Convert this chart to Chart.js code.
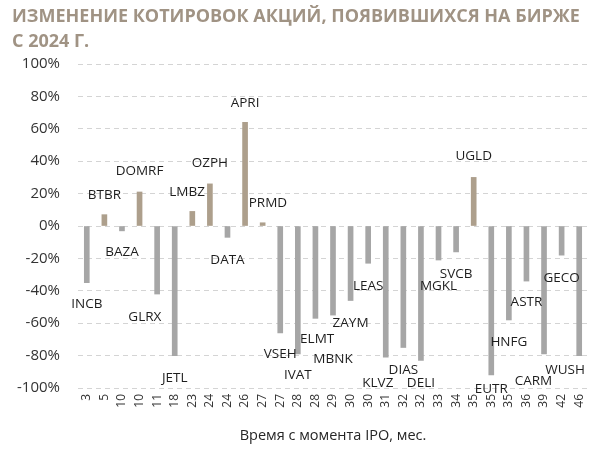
<!DOCTYPE html>
<html>
<head>
<meta charset="utf-8">
<script src="https://cdn.jsdelivr.net/npm/chart.js@4"></script>
<style>
html,body{margin:0;padding:0;background:#fff;}
#wrap{position:relative;width:600px;height:450px;}
</style>
</head>
<body>
<div id="wrap"><canvas id="c" width="600" height="450"></canvas></div>
<script>
// ---- data ----
const tickers = ["INCB","BTBR","BAZA","DOMRF","GLRX","JETL","LMBZ","OZPH","DATA","APRI","PRMD","VSEH","IVAT","ELMT","MBNK","ZAYM","LEAS","KLVZ","DIAS","DELI","MGKL","SVCB","UGLD","EUTR","HNFG","ASTR","CARM","GECO","WUSH"];
const months = ["3","5","10","10","11","18","23","24","24","26","27","27","28","28","29","30","30","31","32","32","33","34","35","35","35","36","39","42","46"];
const changes = [-35,7,-3,21,-42,-80,9,26,-7,64,2,-66,-79,-57,-55,-46,-23,-81,-75,-83,-21,-16,30,-92,-58,-34,-79,-18,-80];
const yTicks = [-100,-80,-60,-40,-20,0,20,40,60,80,100];
// label placement (in value units / category offsets)
const labelValue = [-48,19,-16,34,-56,-94,21,39,-21,76,14,-79,-92,-70,-82,-60,-37,-97,-89,-97,-37,-30,43,-101,-72,-47,-96,-32,-89];
const labelShift = [0,0,0,0,-0.7,0,-0.3,0,0,0,0.3,0,0,0.1,0,0,0,-0.45,0,0,0,0,0,0,0,0,-0.6,0,-0.8];

const titleLines = ["ИЗМЕНЕНИЕ КОТИРОВОК АКЦИЙ, ПОЯВИВШИХСЯ НА БИРЖЕ","С 2024 Г."];
const xTitle = "Время с момента IPO, мес.";

const FONT = "'Open Sans', 'Noto Sans', sans-serif";
const POS = "#ad9f8c", NEG = "#a6a6a6";

const titlePlugin = {
  id: 'topTitle',
  afterDraw(chart) {
    const ctx = chart.ctx;
    ctx.save();
    ctx.fillStyle = "#a09384";
    ctx.font = "bold 18px " + FONT;
    ctx.textBaseline = "middle";
    ctx.textAlign = "left";
    ctx.fillText(titleLines[0], 12, 17);
    ctx.fillText(titleLines[1], 12, 42);
    ctx.restore();
  }
};

const labelPlugin = {
  id: 'barNames',
  afterDatasetsDraw(chart) {
    const ctx = chart.ctx;
    const xs = chart.scales.x, ys = chart.scales.y;
    const step = xs.getPixelForValue(1) - xs.getPixelForValue(0);
    ctx.save();
    ctx.fillStyle = "#1e1e1e";
    ctx.font = "13.5px " + FONT;
    ctx.textAlign = "center";
    ctx.textBaseline = "middle";
    tickers.forEach((t, i) => {
      const x = xs.getPixelForValue(i) + labelShift[i] * step;
      const y = ys.getPixelForValue(labelValue[i]);
      ctx.fillText(t, x, y);
    });
    ctx.restore();
  }
};

new Chart(document.getElementById('c'), {
  type: 'bar',
  data: {
    labels: months,
    datasets: [{
      data: changes,
      backgroundColor: changes.map(v => v >= 0 ? POS : NEG),
      barThickness: 5,
      borderWidth: 0
    }]
  },
  options: {
    responsive: false,
    devicePixelRatio: 1,
    animation: false,
    layout: { padding: { top: 64, right: 12, left: 0, bottom: 0 } },
    plugins: { legend: { display: false }, tooltip: { enabled: false } },
    scales: {
      x: {
        grid: { display: false, drawTicks: false },
        border: { display: false },
        ticks: {
          autoSkip: false, minRotation: 90, maxRotation: 90, crossAlign: 'center',
          color: "#333333", font: { family: FONT, size: 12 }, padding: 6
        },
        title: {
          display: true, text: xTitle, color: "#262626",
          font: { family: FONT, size: 14.5 }, padding: { top: 4, bottom: 5 }
        },
        afterFit(s) { s.height = 62; }
      },
      y: {
        min: -100, max: 100,
        afterBuildTicks(s) { s.ticks = yTicks.map(v => ({ value: v })); },
        grid: { color: "#d4d4d4", lineWidth: 1, drawTicks: false, borderDash: [5, 4] },
        border: { display: false, dash: [5, 4] },
        ticks: {
          color: "#333333", font: { family: FONT, size: 15 }, padding: 18,
          callback: v => v + "%"
        },
        afterFit(s) { s.width = 78; }
      }
    }
  },
  plugins: [titlePlugin, labelPlugin]
});
</script>
</body>
</html>
